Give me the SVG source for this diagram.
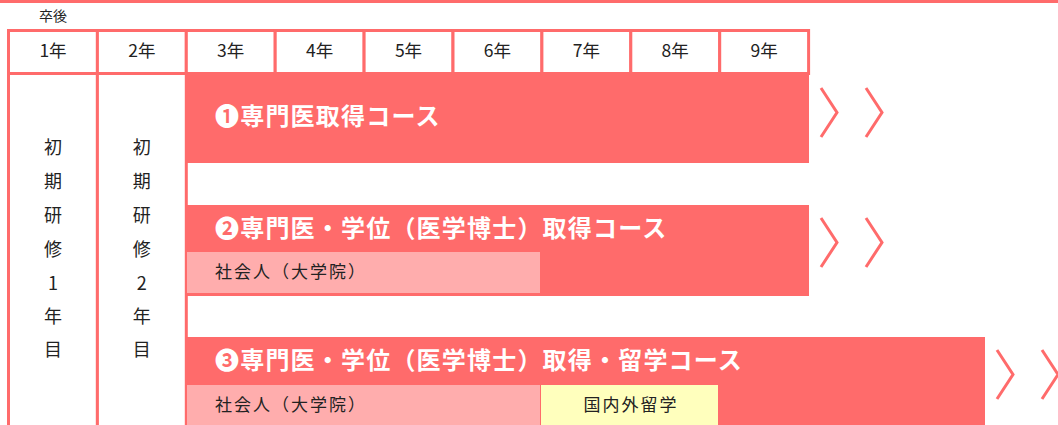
<svg xmlns="http://www.w3.org/2000/svg" width="1058" height="425" viewBox="0 0 1058 425">
<style>
.grid{fill:#fff;stroke:#ff6b6b;stroke-width:3}
.bar{fill:#ff6b6b}
.pink{fill:#ffadad}
.yel{fill:#ffffbd}
.hd{font-family:"Noto Sans CJK JP","DejaVu Sans",sans-serif;font-size:17.5px;fill:#222;text-anchor:middle;dominant-baseline:central}
.vt{font-family:"Noto Sans CJK JP","DejaVu Sans",sans-serif;font-size:18px;fill:#222;text-anchor:middle;dominant-baseline:central}
.ttl{font-family:"Noto Sans CJK JP","DejaVu Sans",sans-serif;font-size:24px;font-weight:bold;fill:#fff;letter-spacing:1.2px;dominant-baseline:central}
.sub{font-family:"Noto Sans CJK JP","DejaVu Sans",sans-serif;font-size:17px;fill:#222;letter-spacing:2px;dominant-baseline:central}
.chev{fill:none;stroke:#ff6b6b;stroke-width:3}
</style>
<defs>
<path id="chv" d="M0,0 L16,24.5 L0,49" class="chev"/>
</defs>
<rect x="0" y="0" width="1058" height="3" class="bar"/>
<text x="53" y="15" class="hd" style="font-size:14px">卒後</text>
<g id="header">
<rect x="8.5" y="30.5" width="88.9" height="43" class="grid"/>
<rect x="97.4" y="30.5" width="88.9" height="43" class="grid"/>
<rect x="186.3" y="30.5" width="88.9" height="43" class="grid"/>
<rect x="275.2" y="30.5" width="88.9" height="43" class="grid"/>
<rect x="364.1" y="30.5" width="88.9" height="43" class="grid"/>
<rect x="453" y="30.5" width="88.9" height="43" class="grid"/>
<rect x="541.9" y="30.5" width="88.9" height="43" class="grid"/>
<rect x="630.8" y="30.5" width="88.9" height="43" class="grid"/>
<rect x="719.7" y="30.5" width="88.9" height="43" class="grid"/>
<text x="53" y="49" class="hd">1年</text>
<text x="141.8" y="49" class="hd">2年</text>
<text x="230.7" y="49" class="hd">3年</text>
<text x="319.6" y="49" class="hd">4年</text>
<text x="408.5" y="49" class="hd">5年</text>
<text x="497.4" y="49" class="hd">6年</text>
<text x="586.3" y="49" class="hd">7年</text>
<text x="675.2" y="49" class="hd">8年</text>
<text x="764.1" y="49" class="hd">9年</text>
</g>
<g id="year1">
<rect x="8.5" y="73.5" width="88.9" height="360" class="grid"/>
<text class="vt"><tspan x="53" y="146">初</tspan><tspan x="53" y="180">期</tspan><tspan x="53" y="214">研</tspan><tspan x="53" y="248">修</tspan><tspan x="53" y="282">1</tspan><tspan x="53" y="315">年</tspan><tspan x="53" y="348">目</tspan></text>
</g>
<g id="year2">
<rect x="97.4" y="73.5" width="88.9" height="360" class="grid"/>
<text class="vt"><tspan x="141.8" y="146">初</tspan><tspan x="141.8" y="180">期</tspan><tspan x="141.8" y="214">研</tspan><tspan x="141.8" y="248">修</tspan><tspan x="141.8" y="282">2</tspan><tspan x="141.8" y="315">年</tspan><tspan x="141.8" y="348">目</tspan></text>
</g>
<g id="course1">
<rect x="185" y="75" width="624" height="88" class="bar"/>
<text x="215" y="114" class="ttl">❶専門医取得コース</text>
</g>
<g id="course2">
<rect x="185" y="205" width="624" height="91" class="bar"/>
<text x="215" y="226" class="ttl">❷専門医・学位（医学博士）取得コース</text>
<rect x="187" y="252" width="353" height="41" class="pink"/>
<text x="215" y="270" class="sub">社会人（大学院）</text>
</g>
<g id="course3">
<rect x="185" y="337" width="800" height="90" class="bar"/>
<text x="215" y="358" class="ttl">❸専門医・学位（医学博士）取得・留学コース</text>
<rect x="187" y="385" width="353" height="42" class="pink"/>
<text x="215" y="403" class="sub">社会人（大学院）</text>
<rect x="541" y="385" width="177" height="42" class="yel"/>
<text x="631" y="403" class="sub" style="text-anchor:middle">国内外留学</text>
</g>
<g id="connectors">
<use href="#chv" x="821" y="88"/>
<use href="#chv" x="866" y="88"/>
<use href="#chv" x="821" y="218"/>
<use href="#chv" x="866" y="218"/>
<use href="#chv" x="997" y="350"/>
<use href="#chv" x="1042" y="350"/>
</g>
</svg>
